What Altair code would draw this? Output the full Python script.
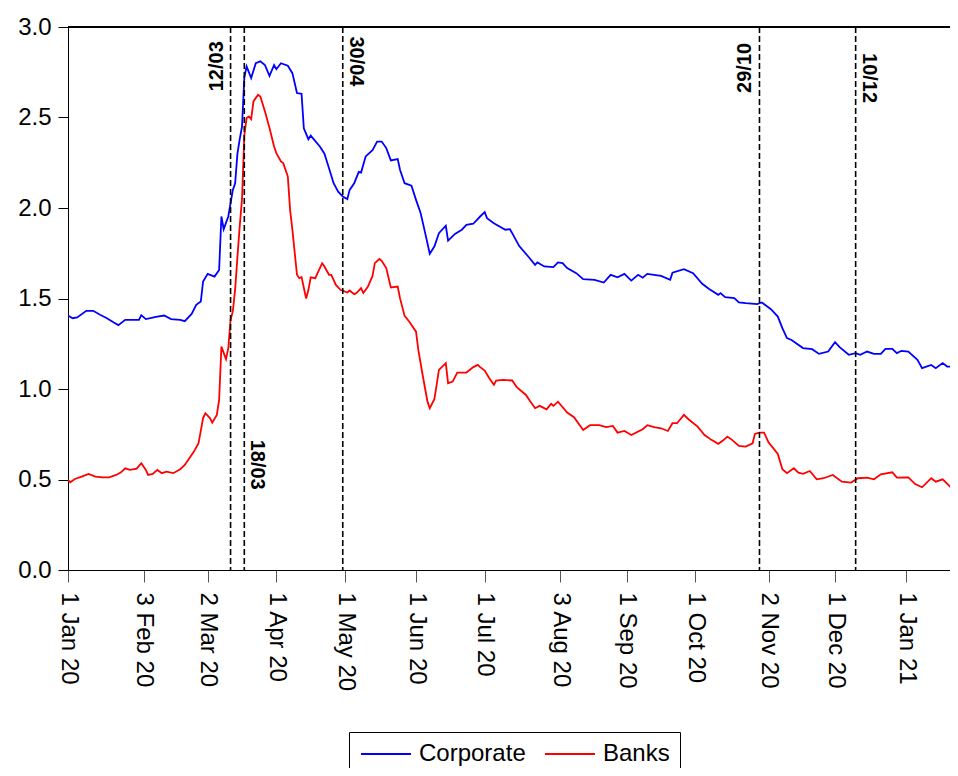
import altair as alt
import pandas as pd

# ---------------- data ----------------
corp_dates = [
    "2020-01-01", "2020-01-03", "2020-01-05", "2020-01-09", "2020-01-12", "2020-01-15", "2020-01-18",
    "2020-01-21", "2020-01-23", "2020-01-26", "2020-01-29", "2020-02-01", "2020-02-02", "2020-02-04",
    "2020-02-09", "2020-02-12", "2020-02-15", "2020-02-19", "2020-02-21", "2020-02-24", "2020-02-26",
    "2020-02-28", "2020-02-29", "2020-03-02", "2020-03-05", "2020-03-07", "2020-03-08", "2020-03-09",
    "2020-03-11", "2020-03-13", "2020-03-14", "2020-03-15", "2020-03-16", "2020-03-17", "2020-03-18",
    "2020-03-19", "2020-03-21", "2020-03-23", "2020-03-25", "2020-03-27", "2020-03-29", "2020-03-31",
    "2020-04-01", "2020-04-03", "2020-04-06", "2020-04-08", "2020-04-10", "2020-04-12", "2020-04-13",
    "2020-04-15", "2020-04-16", "2020-04-20", "2020-04-22", "2020-04-24", "2020-04-26", "2020-04-28",
    "2020-04-30", "2020-05-02", "2020-05-03", "2020-05-05", "2020-05-07", "2020-05-08", "2020-05-10",
    "2020-05-13", "2020-05-15", "2020-05-17", "2020-05-19", "2020-05-21", "2020-05-24", "2020-05-25",
    "2020-05-27", "2020-05-30", "2020-06-01", "2020-06-03", "2020-06-05", "2020-06-07", "2020-06-09",
    "2020-06-11", "2020-06-14", "2020-06-15", "2020-06-18", "2020-06-21", "2020-06-23", "2020-06-26",
    "2020-06-29", "2020-07-01", "2020-07-02", "2020-07-05", "2020-07-10", "2020-07-12", "2020-07-13",
    "2020-07-16", "2020-07-20", "2020-07-23", "2020-07-24", "2020-07-27", "2020-07-31", "2020-08-02",
    "2020-08-04", "2020-08-06", "2020-08-10", "2020-08-13", "2020-08-18", "2020-08-22", "2020-08-25",
    "2020-08-28", "2020-08-31", "2020-09-03", "2020-09-06", "2020-09-08", "2020-09-10", "2020-09-16",
    "2020-09-20", "2020-09-21", "2020-09-26", "2020-09-30", "2020-10-04", "2020-10-07", "2020-10-11",
    "2020-10-12", "2020-10-14", "2020-10-18", "2020-10-20", "2020-10-23", "2020-10-28", "2020-10-30",
    "2020-11-03", "2020-11-06", "2020-11-08", "2020-11-10", "2020-11-12", "2020-11-17", "2020-11-21",
    "2020-11-24", "2020-11-28", "2020-12-01", "2020-12-03", "2020-12-07", "2020-12-10", "2020-12-12",
    "2020-12-15", "2020-12-18", "2020-12-21", "2020-12-23", "2020-12-26", "2020-12-28", "2020-12-30",
    "2021-01-02", "2021-01-06", "2021-01-08", "2021-01-12", "2021-01-14", "2021-01-17", "2021-01-19",
    "2021-01-23",
]
corp_values = [
    1.406, 1.391, 1.395, 1.432, 1.432, 1.410, 1.391,
    1.367, 1.353, 1.382, 1.382, 1.382, 1.408, 1.386,
    1.400, 1.406, 1.386, 1.382, 1.375, 1.415, 1.465,
    1.483, 1.594, 1.636, 1.621, 1.658, 1.953, 1.883,
    1.953, 2.100, 2.137, 2.300, 2.380, 2.450, 2.720,
    2.782, 2.718, 2.800, 2.810, 2.790, 2.730, 2.790,
    2.767, 2.800, 2.786, 2.745, 2.635, 2.631, 2.440,
    2.380, 2.400, 2.340, 2.300, 2.220, 2.137, 2.090,
    2.064, 2.049, 2.100, 2.137, 2.200, 2.196, 2.285,
    2.320, 2.367, 2.367, 2.331, 2.263, 2.270, 2.211,
    2.137, 2.123, 2.045, 1.972, 1.861, 1.747, 1.787,
    1.861, 1.902, 1.820, 1.857, 1.880, 1.907, 1.913,
    1.953, 1.977, 1.944, 1.916, 1.880, 1.883, 1.861,
    1.791, 1.732, 1.686, 1.699, 1.677, 1.673, 1.699,
    1.695, 1.668, 1.640, 1.607, 1.603, 1.588, 1.631,
    1.617, 1.636, 1.599, 1.631, 1.615, 1.636, 1.625,
    1.603, 1.643, 1.662, 1.640, 1.581, 1.552, 1.520,
    1.530, 1.507, 1.502, 1.478, 1.474, 1.469, 1.478,
    1.441, 1.400, 1.336, 1.281, 1.271, 1.226, 1.220,
    1.194, 1.207, 1.259, 1.231, 1.189, 1.198, 1.189,
    1.207, 1.194, 1.194, 1.222, 1.222, 1.198, 1.211,
    1.207, 1.161, 1.115, 1.133, 1.115, 1.143, 1.124,
    1.124,
]

bank_dates = [
    "2020-01-01", "2020-01-02", "2020-01-04", "2020-01-07", "2020-01-10", "2020-01-13", "2020-01-16",
    "2020-01-19", "2020-01-22", "2020-01-24", "2020-01-26", "2020-01-28", "2020-01-31", "2020-02-02",
    "2020-02-04", "2020-02-05", "2020-02-07", "2020-02-09", "2020-02-11", "2020-02-13", "2020-02-16",
    "2020-02-19", "2020-02-21", "2020-02-23", "2020-02-25", "2020-02-27", "2020-02-29", "2020-03-01",
    "2020-03-03", "2020-03-04", "2020-03-06", "2020-03-07", "2020-03-08", "2020-03-10", "2020-03-11",
    "2020-03-12", "2020-03-13", "2020-03-14", "2020-03-15", "2020-03-16", "2020-03-17", "2020-03-18",
    "2020-03-19", "2020-03-20", "2020-03-21", "2020-03-22", "2020-03-24", "2020-03-25", "2020-03-27",
    "2020-03-29", "2020-03-31", "2020-04-01", "2020-04-03", "2020-04-04", "2020-04-06", "2020-04-07",
    "2020-04-08", "2020-04-10", "2020-04-11", "2020-04-12", "2020-04-14", "2020-04-15", "2020-04-16",
    "2020-04-18", "2020-04-19", "2020-04-21", "2020-04-22", "2020-04-24", "2020-04-25", "2020-04-27",
    "2020-04-29", "2020-05-02", "2020-05-03", "2020-05-05", "2020-05-06", "2020-05-08", "2020-05-09",
    "2020-05-11", "2020-05-13", "2020-05-14", "2020-05-16", "2020-05-17", "2020-05-19", "2020-05-21",
    "2020-05-24", "2020-05-25", "2020-05-27", "2020-05-29", "2020-06-01", "2020-06-02", "2020-06-04",
    "2020-06-06", "2020-06-07", "2020-06-09", "2020-06-10", "2020-06-11", "2020-06-14", "2020-06-15",
    "2020-06-17", "2020-06-19", "2020-06-23", "2020-06-26", "2020-06-28", "2020-06-29", "2020-07-01",
    "2020-07-03", "2020-07-05", "2020-07-06", "2020-07-09", "2020-07-13", "2020-07-15", "2020-07-19",
    "2020-07-21", "2020-07-23", "2020-07-25", "2020-07-28", "2020-07-30", "2020-07-31", "2020-08-02",
    "2020-08-06", "2020-08-09", "2020-08-13", "2020-08-16", "2020-08-20", "2020-08-23", "2020-08-26",
    "2020-08-28", "2020-08-31", "2020-09-03", "2020-09-08", "2020-09-10", "2020-09-13", "2020-09-16",
    "2020-09-19", "2020-09-21", "2020-09-23", "2020-09-26", "2020-09-28", "2020-10-02", "2020-10-05",
    "2020-10-08", "2020-10-11", "2020-10-13", "2020-10-15", "2020-10-17", "2020-10-20", "2020-10-23",
    "2020-10-26", "2020-10-27", "2020-10-29", "2020-10-31", "2020-11-02", "2020-11-04", "2020-11-06",
    "2020-11-08", "2020-11-10", "2020-11-13", "2020-11-15", "2020-11-17", "2020-11-20", "2020-11-23",
    "2020-11-26", "2020-11-30", "2020-12-04", "2020-12-08", "2020-12-11", "2020-12-15", "2020-12-18",
    "2020-12-21", "2020-12-26", "2020-12-28", "2021-01-02", "2021-01-05", "2021-01-08", "2021-01-12",
    "2021-01-14", "2021-01-17", "2021-01-21", "2021-01-23",
]
bank_values = [
    0.498, 0.485, 0.503, 0.516, 0.531, 0.516, 0.512,
    0.512, 0.525, 0.538, 0.562, 0.553, 0.560, 0.590,
    0.553, 0.525, 0.531, 0.553, 0.535, 0.543, 0.535,
    0.557, 0.580, 0.617, 0.654, 0.700, 0.839, 0.866,
    0.839, 0.814, 0.857, 0.940, 1.234, 1.165, 1.226,
    1.382, 1.430, 1.550, 1.730, 1.900, 2.050, 2.400,
    2.497, 2.506, 2.491, 2.589, 2.626, 2.616, 2.534,
    2.442, 2.340, 2.303, 2.257, 2.248, 2.174, 1.990,
    1.880, 1.631, 1.612, 1.618, 1.500, 1.548, 1.617,
    1.612, 1.640, 1.695, 1.677, 1.631, 1.631, 1.575,
    1.548, 1.533, 1.544, 1.524, 1.530, 1.557, 1.530,
    1.566, 1.625, 1.695, 1.718, 1.708, 1.668, 1.561,
    1.566, 1.502, 1.404, 1.373, 1.317, 1.216, 1.069,
    0.930, 0.894, 0.944, 1.023, 1.106, 1.143, 1.032,
    1.041, 1.091, 1.091, 1.121, 1.133, 1.121, 1.102,
    1.060, 1.023, 1.047, 1.050, 1.047, 1.010, 0.967,
    0.930, 0.894, 0.907, 0.888, 0.918, 0.907, 0.930,
    0.870, 0.844, 0.774, 0.800, 0.800, 0.789, 0.796,
    0.759, 0.768, 0.746, 0.778, 0.800, 0.789, 0.783,
    0.768, 0.811, 0.811, 0.857, 0.833, 0.792, 0.746,
    0.719, 0.697, 0.715, 0.737, 0.719, 0.686, 0.682,
    0.700, 0.752, 0.759, 0.759, 0.704, 0.673, 0.641,
    0.557, 0.535, 0.562, 0.538, 0.531, 0.547, 0.501,
    0.507, 0.525, 0.488, 0.483, 0.507, 0.510, 0.501,
    0.529, 0.540, 0.510, 0.512, 0.475, 0.457, 0.507,
    0.488, 0.501, 0.452, 0.460,
]

series_names = ["Corporate", "Banks"]
series_colors = ["#0000FF", "#FF0000"]

event_dates = ["2020-03-12", "2020-03-18", "2020-04-30", "2020-10-29", "2020-12-10"]
event_labels = ["12/03", "18/03", "30/04", "29/10", "10/12"]
event_label_level = [2.645, 0.72, 2.948, 2.636, 2.856]   # where each label starts, in y units
event_label_dir = ["up", "down", "down", "up", "down"]

tick_dates = ["2020-01-01", "2020-02-03", "2020-03-02", "2020-04-01", "2020-05-01", "2020-06-01",
              "2020-07-01", "2020-08-03", "2020-09-01", "2020-10-01", "2020-11-02", "2020-12-01",
              "2021-01-01"]
y_ticks = [0.0, 0.5, 1.0, 1.5, 2.0, 2.5, 3.0]

# ---------------- tables ----------------
lines = pd.concat([
    pd.DataFrame({"date": pd.to_datetime(corp_dates), "value": corp_values, "series": "Corporate"}),
    pd.DataFrame({"date": pd.to_datetime(bank_dates), "value": bank_values, "series": "Banks"}),
], ignore_index=True)

events = pd.DataFrame({
    "date": pd.to_datetime(event_dates),
    "label": event_labels,
    "level": event_label_level,
    "dir": event_label_dir,
})


def dt(s):
    t = pd.Timestamp(s)
    return alt.DateTime(year=t.year, month=t.month, date=t.day, hours=t.hour)


W, H = 882, 543
FONT = "Liberation Sans"

x_scale = alt.Scale(domain=[dt("2020-01-01"), dt("2021-01-20 05:00")])
y_scale = alt.Scale(domain=[0, 3], nice=False, zero=False)

x_axis = alt.Axis(values=[dt(d) for d in tick_dates], format="%-d %b %y", formatType="time",
                  labelAngle=90, labelFontSize=24, labelFont=FONT, labelColor="black",
                  labelPadding=10, tickSize=12, tickColor="#555555", domainColor="black",
                  labelFlush=False, labelOverlap=False, grid=False, title=None)
y_axis = alt.Axis(values=y_ticks, format=".1f", labelFontSize=24, labelFont=FONT,
                  labelColor="black", labelPadding=7, tickSize=10, tickColor="black",
                  domainColor="black", labelFlush=False, grid=False, title=None)

X = alt.X("date:T", scale=x_scale, axis=x_axis)

line_layer = alt.Chart(lines).mark_line(strokeWidth=1.8, clip=True).encode(
    x=X,
    y=alt.Y("value:Q", scale=y_scale, axis=y_axis),
    color=alt.Color(
        "series:N",
        scale=alt.Scale(domain=series_names, range=series_colors),
        legend=alt.Legend(title=None, orient="none", legendX=281, legendY=705,
                          direction="horizontal", labelFontSize=24, labelFont=FONT,
                          labelColor="black", symbolType="M-1,0L4,0", symbolSize=400,
                          symbolStrokeWidth=2, strokeColor="black", fillColor="white",
                          padding=10, labelOffset=36, columnPadding=15, labelLimit=300),
    ),
)

frame_top = alt.Chart(lines).mark_rule(color="black", strokeWidth=1.5).encode(
    x=alt.value(0), x2=alt.value(W), y=alt.value(0)
)

event_rules = alt.Chart(events).mark_rule(color="black", strokeWidth=1.6, strokeDash=[6, 3]).encode(
    x=X
)

label_up = alt.Chart(events).transform_filter(alt.datum.dir == "up").mark_text(
    angle=270, align="left", baseline="alphabetic", dy=-8, fontSize=20, fontWeight="bold",
    font=FONT, color="black"
).encode(x=X, y=alt.Y("level:Q", scale=y_scale, axis=y_axis), text="label:N")

label_down = alt.Chart(events).transform_filter(alt.datum.dir == "down").mark_text(
    angle=90, align="left", baseline="alphabetic", dy=-7, fontSize=20, fontWeight="bold",
    font=FONT, color="black"
).encode(x=X, y=alt.Y("level:Q", scale=y_scale, axis=y_axis), text="label:N")

chart = alt.layer(line_layer, event_rules, frame_top, label_up, label_down).properties(
    width=W, height=H,
    autosize=alt.AutoSizeParams(type="none"),
    padding={"left": 60, "top": 19, "right": 0, "bottom": 198},
    background="white",
).configure_view(strokeWidth=0)

chart.save("out.html", embed_options={"renderer": "svg", "actions": False})
